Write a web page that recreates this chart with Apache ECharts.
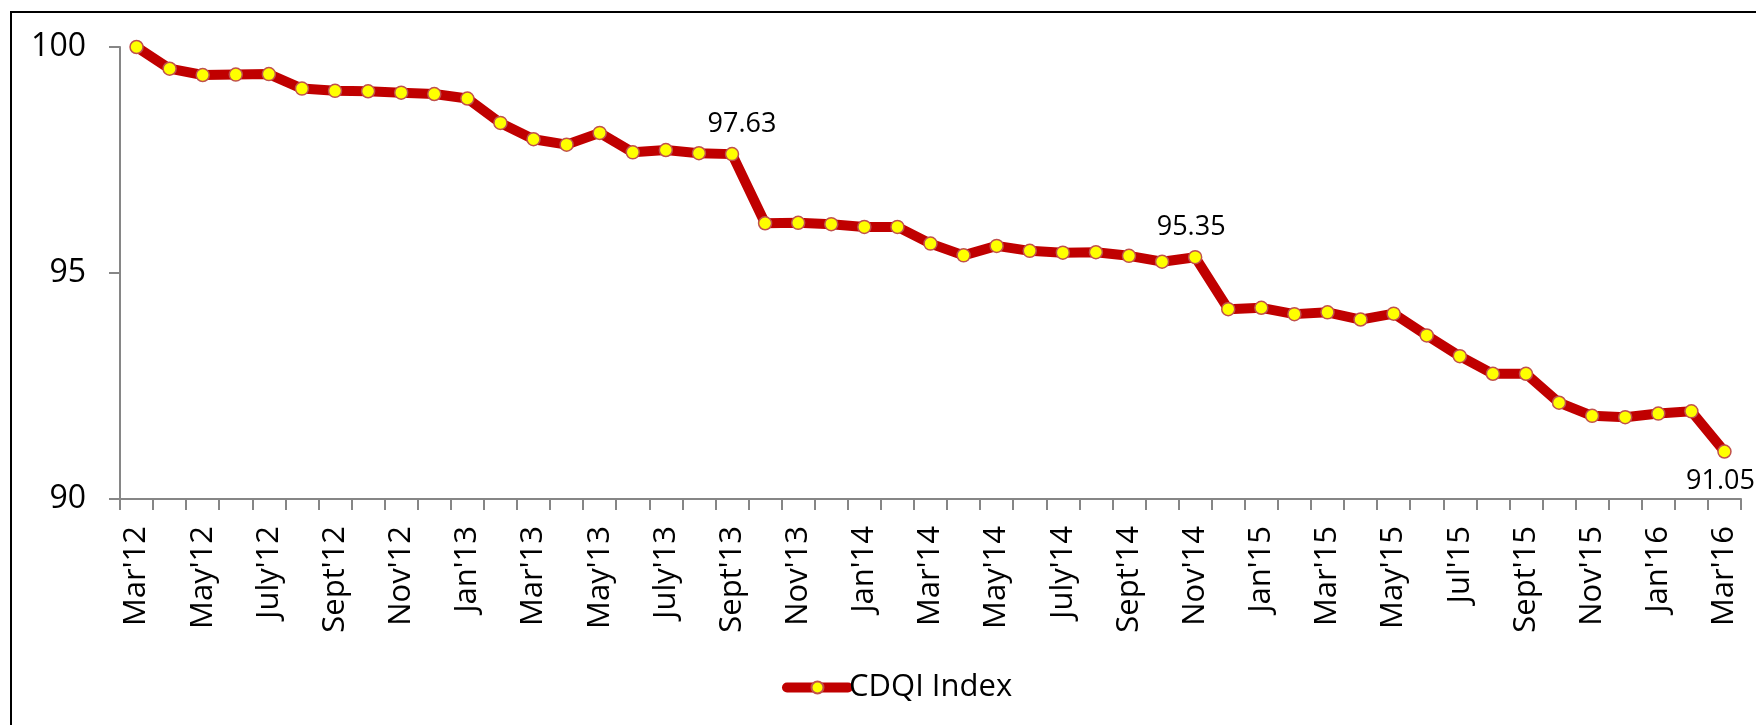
<!DOCTYPE html>
<html lang="en">

<head>
    <meta charset="UTF-8">
    <title>CDQI Index</title>
    <script src="https://cdn.jsdelivr.net/npm/echarts@6.0.0/dist/echarts.min.js"></script>
    <style>
        html, body { margin: 0; padding: 0; background: #fff; }
    </style>
</head>

<body>
    <div id="chart" style="width: 1756px; height: 725px;"></div>
    <script type="text/javascript">
        // Data
        const months = [
            "Mar'12", "Apr'12", "May'12", "June'12", "July'12", "Aug'12", "Sept'12", "Oct'12", "Nov'12", "Dec'12",
            "Jan'13", "Feb'13", "Mar'13", "Apr'13", "May'13", "June'13", "July'13", "Aug'13", "Sept'13", "Oct'13",
            "Nov'13", "Dec'13", "Jan'14", "Feb'14", "Mar'14", "Apr'14", "May'14", "June'14", "July'14", "Aug'14",
            "Sept'14", "Oct'14", "Nov'14", "Dec'14", "Jan'15", "Feb'15", "Mar'15", "Apr'15", "May'15", "Jun'15",
            "Jul'15", "Aug'15", "Sept'15", "Oct'15", "Nov'15", "Dec'15", "Jan'16", "Feb'16", "Mar'16"
        ];
        const cdqiValues = [
            100.00, 99.52, 99.38, 99.39, 99.40, 99.08, 99.03, 99.02, 98.99, 98.96,
            98.86, 98.32, 97.96, 97.84, 98.10, 97.67, 97.72, 97.65, 97.63, 96.10,
            96.11, 96.08, 96.02, 96.02, 95.65, 95.39, 95.60, 95.49, 95.45, 95.46,
            95.38, 95.25, 95.35, 94.20, 94.23, 94.09, 94.13, 93.97, 94.10, 93.62,
            93.16, 92.77, 92.77, 92.13, 91.84, 91.81, 91.89, 91.94, 91.05
        ];
        // points that carry a value label, and where the label sits
        const labelled = { 18: 'top', 32: 'top', 48: 'bottom' };

        const font = 'Open Sans';
        const chart = echarts.init(document.getElementById('chart'));

        const seriesData = cdqiValues.map((v, i) => {
            if (!(i in labelled)) return v;
            return {
                value: v,
                label: {
                    show: true,
                    position: labelled[i],
                    distance: 9,
                    offset: i === 18 ? [10, 0] : [-4, 0],
                    formatter: v.toFixed(2),
                    color: '#000',
                    fontFamily: font,
                    fontSize: 27
                }
            };
        });

        chart.setOption({
            animation: false,
            graphic: [{
                type: 'rect',
                shape: { x: 11, y: 12, width: 1800, height: 800 },
                style: { fill: 'none', stroke: '#000', lineWidth: 2 },
                silent: true
            }],
            grid: { left: 120, right: 15, top: 47, bottom: 226 },
            legend: {
                left: 777,
                top: 667,
                itemWidth: 61,
                itemHeight: 15,
                itemGap: 10,
                lineStyle: { width: 10, cap: 'round' },
                textStyle: { fontFamily: font, fontSize: 31, color: '#000', padding: [0, 0, 0, -4] },
                data: ['CDQI Index']
            },
            xAxis: {
                type: 'category',
                data: months,
                boundaryGap: true,
                axisLine: { lineStyle: { color: '#868686', width: 2 } },
                axisTick: { show: true, interval: 0, length: 11, alignWithLabel: false, lineStyle: { color: '#868686', width: 2 } },
                axisLabel: {
                    interval: 1,
                    rotate: 90,
                    margin: 27,
                    color: '#000',
                    fontFamily: font,
                    fontSize: 31
                },
                splitLine: { show: false }
            },
            yAxis: {
                type: 'value',
                min: 90,
                max: 100,
                interval: 5,
                axisLine: { show: true, lineStyle: { color: '#868686', width: 2 } },
                axisTick: { show: true, length: 11, lineStyle: { color: '#868686', width: 2 } },
                axisLabel: {
                    margin: 34,
                    color: '#000',
                    fontFamily: font,
                    fontSize: 32
                },
                splitLine: { show: false }
            },
            series: [{
                name: 'CDQI Index',
                type: 'line',
                data: seriesData,
                symbol: 'circle',
                symbolSize: 13,
                lineStyle: { color: '#C00000', width: 10, join: 'round' },
                itemStyle: { color: '#FFFF00', borderColor: '#C0504D', borderWidth: 1.5 },
                emphasis: { disabled: true }
            }]
        });
    </script>
</body>

</html>
